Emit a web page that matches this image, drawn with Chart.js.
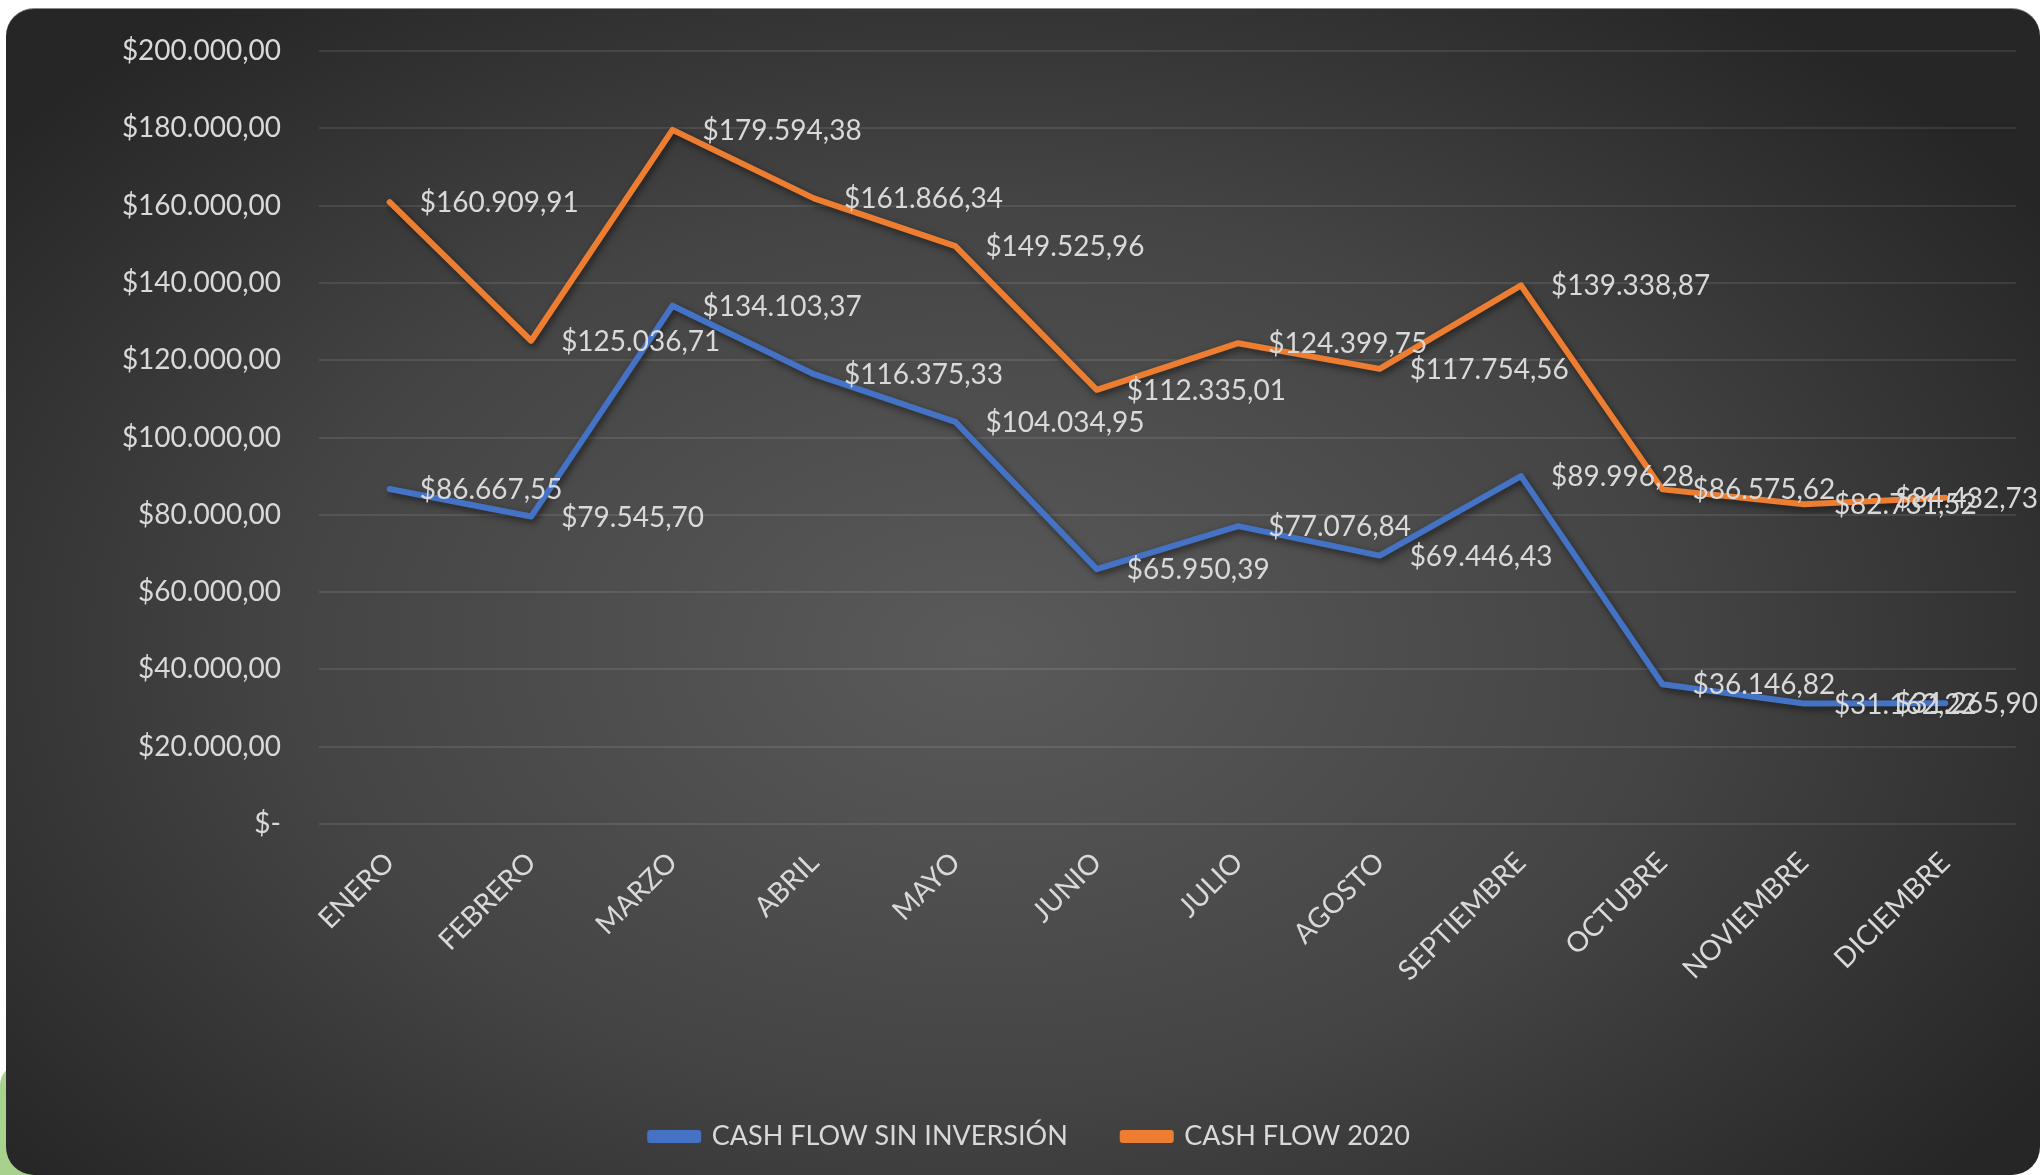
<!DOCTYPE html>
<html lang="es">
<head>
<meta charset="UTF-8">
<title>Cash Flow</title>
<script src="https://cdn.jsdelivr.net/npm/chart.js"></script>
<style>
    * { margin: 0; padding: 0; box-sizing: border-box; }
    body {
        width: 2040px;
        height: 1175px;
        background: #ffffff;
        position: relative;
        overflow: hidden;
        font-family: 'Lato', sans-serif;
    }
    /* green shape peeking out behind the card */
    .leaf {
        position: absolute;
        left: 0;
        top: 1065px;
        width: 40px;
        height: 110px;
        background: #a9d18e;
        border-top-left-radius: 20px;
    }
    .card {
        position: absolute;
        left: 6px;
        top: 8px;
        width: 2034px;
        height: 1167px;
        border-radius: 28px;
        border-top: 1px solid #8a8a8a;
        background: radial-gradient(ellipse 62% 70% at 48% 55%, #5a5a5a 0%, #444 55%, #262626 100%);
    }
</style>
</head>
<body>
<div class="leaf"></div>
<div class="card">
    <canvas id="cashChart"></canvas>
</div>

<script>
    // Data
    const months = ['ENERO', 'FEBRERO', 'MARZO', 'ABRIL', 'MAYO', 'JUNIO', 'JULIO',
                    'AGOSTO', 'SEPTIEMBRE', 'OCTUBRE', 'NOVIEMBRE', 'DICIEMBRE'];
    const sinInversion = [86667.55, 79545.70, 134103.37, 116375.33, 104034.95, 65950.39,
                          77076.84, 69446.43, 89996.28, 36146.82, 31162.22, 31265.90];
    const cashFlow2020 = [160909.91, 125036.71, 179594.38, 161866.34, 149525.96, 112335.01,
                          124399.75, 117754.56, 139338.87, 86575.62, 82731.52, 84432.73];
    const yTickValues = [0, 20000, 40000, 60000, 80000, 100000, 120000, 140000, 160000, 180000, 200000];

    const textColor = '#d9d9d9';
    const fontFamily = "'Lato', sans-serif";
    const fontSize = 28;

    // $1.234,56 style, "$-" for zero
    function money(v) {
        if (v === 0) return '$-';
        let parts = v.toFixed(2).split('.');
        let whole = parts[0].replace(/\B(?=(\d{3})+(?!\d))/g, '.');
        return '$' + whole + ',' + parts[1];
    }

    // Shadow under the lines + value labels to the right of each point
    const valueLabels = {
        id: 'valueLabels',
        afterLayout(chart) {
            // legend sits a bit right of centre in the original
            chart.legend.left += 19;
            chart.legend.right += 19;
        },
        beforeDatasetsDraw(chart) {
            const ctx = chart.ctx;
            ctx.save();
            ctx.shadowColor = 'rgba(0,0,0,0.55)';
            ctx.shadowBlur = 7;
            ctx.shadowOffsetX = 2;
            ctx.shadowOffsetY = 3;
        },
        afterDatasetsDraw(chart) {
            const ctx = chart.ctx;
            ctx.restore();
            ctx.save();
            ctx.font = fontSize + 'px ' + fontFamily;
            ctx.fillStyle = textColor;
            ctx.textAlign = 'left';
            ctx.textBaseline = 'middle';
            chart.data.datasets.forEach((ds, di) => {
                const meta = chart.getDatasetMeta(di);
                meta.data.forEach((pt, i) => {
                    const txt = money(ds.data[i]);
                    const w = ctx.measureText(txt).width;
                    let x = pt.x + 30;
                    if (x + w > chart.width - 2) x = chart.width - 2 - w;
                    ctx.fillText(txt, x, pt.y + 1);
                });
            });
            ctx.restore();
        }
    };

    const ctx = document.getElementById('cashChart').getContext('2d');
    new Chart(ctx, {
        type: 'line',
        data: {
            labels: months,
            datasets: [{
                label: 'CASH FLOW SIN INVERSIÓN',
                data: sinInversion,
                borderColor: '#4472c4',
                backgroundColor: '#4472c4',
                borderWidth: 6,
                pointRadius: 0,
                tension: 0,
                borderCapStyle: 'round',
                borderJoinStyle: 'round'
            }, {
                label: 'CASH FLOW 2020',
                data: cashFlow2020,
                borderColor: '#ed7d31',
                backgroundColor: '#ed7d31',
                borderWidth: 6,
                pointRadius: 0,
                tension: 0,
                borderCapStyle: 'round',
                borderJoinStyle: 'round'
            }]
        },
        options: {
            responsive: true,
            maintainAspectRatio: false,
            animation: false,
            layout: {
                padding: { left: 0, right: 24, top: 42, bottom: 15 }
            },
            scales: {
                x: {
                    offset: true,
                    grid: { display: false, offset: true },
                    border: { display: false },
                    ticks: {
                        color: textColor,
                        font: { family: fontFamily, size: fontSize },
                        minRotation: 45,
                        maxRotation: 45,
                        autoSkip: false,
                        padding: 14
                    },
                    afterFit(scale) { scale.height = 244; }
                },
                y: {
                    min: 0,
                    max: 200000,
                    afterBuildTicks(scale) {
                        scale.ticks = yTickValues.map(v => ({ value: v }));
                    },
                    grid: {
                        color: 'rgba(255,255,255,0.09)',
                        lineWidth: 2,
                        drawTicks: false
                    },
                    border: { display: false },
                    ticks: {
                        color: textColor,
                        font: { family: fontFamily, size: fontSize },
                        padding: 38,
                        callback: v => money(v)
                    },
                    afterFit(scale) {
                        scale.width = 313;
                        scale.paddingTop = 0;
                        scale.paddingBottom = 0;
                    }
                }
            },
            plugins: {
                legend: {
                    position: 'bottom',
                    labels: {
                        color: textColor,
                        font: { family: fontFamily, size: 27 },
                        boxWidth: 48,
                        boxHeight: 7,
                        padding: 55
                    }
                },
                tooltip: { enabled: false }
            }
        },
        plugins: [valueLabels]
    });
</script>
</body>
</html>
